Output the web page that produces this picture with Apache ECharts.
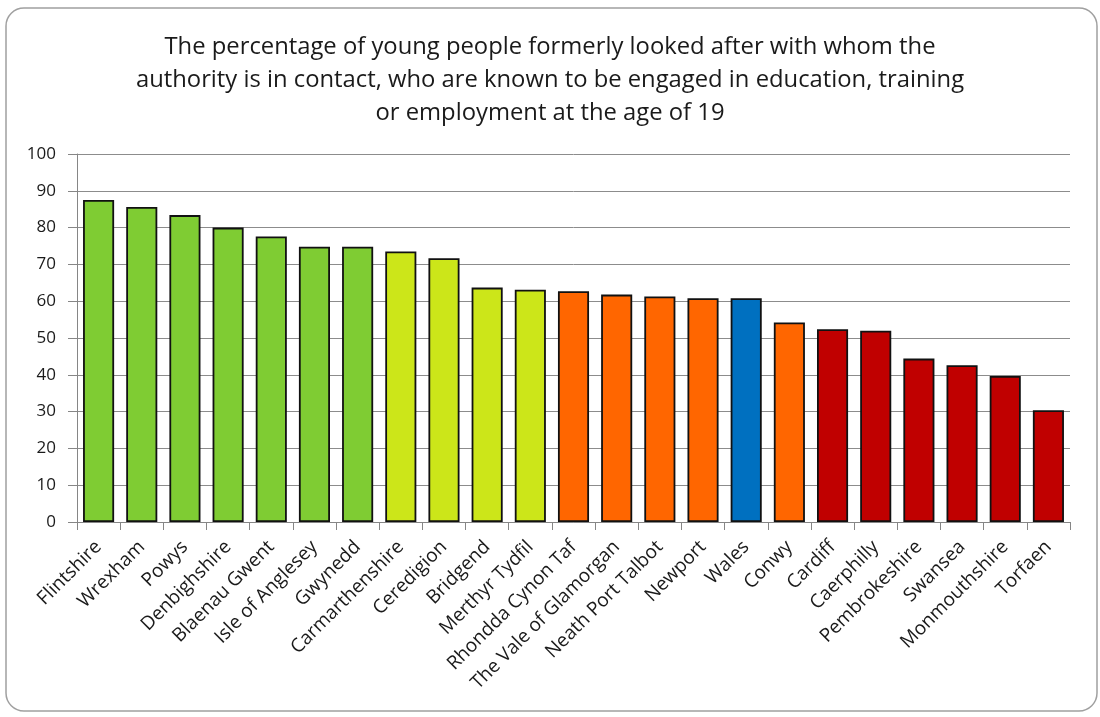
<!DOCTYPE html>
<html><head><meta charset="utf-8">
<script src="https://cdn.jsdelivr.net/npm/echarts@6/dist/echarts.min.js"></script>
<style>html,body{margin:0;padding:0;background:#fff}#c{width:1100px;height:717px}</style>
</head><body><div id="c"></div>
<script>
const titleText = "The percentage of young people formerly looked after with whom the\nauthority is in contact, who are known to be engaged in education, training\nor employment at the age of 19";
const categories = ["Flintshire","Wrexham","Powys","Denbighshire","Blaenau Gwent","Isle of Anglesey","Gwynedd","Carmarthenshire","Ceredigion","Bridgend","Merthyr Tydfil","Rhondda Cynon Taf","The Vale of Glamorgan","Neath Port Talbot","Newport","Wales","Conwy","Cardiff","Caerphilly","Pembrokeshire","Swansea","Monmouthshire","Torfaen"];
const values = [87.5,85.6,83.4,80.0,77.6,74.8,74.8,73.5,71.7,63.7,63.1,62.7,61.8,61.3,60.8,60.8,54.2,52.4,52.0,44.4,42.6,39.7,30.4];
const groups = ["g","g","g","g","g","g","g","y","y","y","y","o","o","o","o","b","o","r","r","r","r","r","r"];
const groupColors = {g:"#7FCC33", y:"#CCE619", o:"#FF6600", b:"#0070C0", r:"#C00000"};
const yTicks = [0,10,20,30,40,50,60,70,80,90,100];

const FONT = "'Open Sans', 'Noto Sans', sans-serif";
const chart = echarts.init(document.getElementById('c'), null, {renderer:'canvas'});
chart.setOption({
  animation:false,
  backgroundColor:'#fff',
  graphic:[{type:'rect', shape:{x:6,y:8,width:1091,height:703,r:18}, style:{fill:'none', stroke:'#a0a0a0', lineWidth:1.5}, z:-1}],
  title:{text:titleText, left:'center', top:26, textStyle:{fontFamily:FONT, fontSize:23.8, fontWeight:'normal', color:'#1a1a1a', lineHeight:33}},
  grid:{left:77, right:30, top:154, bottom:195, containLabel:false},
  xAxis:{type:'category', data:categories,
    axisLine:{lineStyle:{color:'#868686', width:1}},
    axisTick:{show:true, alignWithLabel:false, length:8, lineStyle:{color:'#868686'}},
    axisLabel:{rotate:45, interval:0, fontFamily:FONT, fontSize:19, color:'#1a1a1a', margin:22}},
  yAxis:{type:'value', min:yTicks[0], max:yTicks[yTicks.length-1], interval:10,
    axisLine:{show:true, lineStyle:{color:'#868686'}},
    axisTick:{show:true, length:9, lineStyle:{color:'#868686'}},
    axisLabel:{fontFamily:FONT, fontSize:17, color:'#1a1a1a', margin:21},
    splitLine:{lineStyle:{color:'#8c8c8c', width:1}}},
  series:[{type:'bar', barWidth:'72%',
    data: values.map((v,i)=>({value:v, itemStyle:{color:groupColors[groups[i]]}})),
    itemStyle:{borderColor:'#111', borderWidth:1.8}}]
});
</script></body></html>
